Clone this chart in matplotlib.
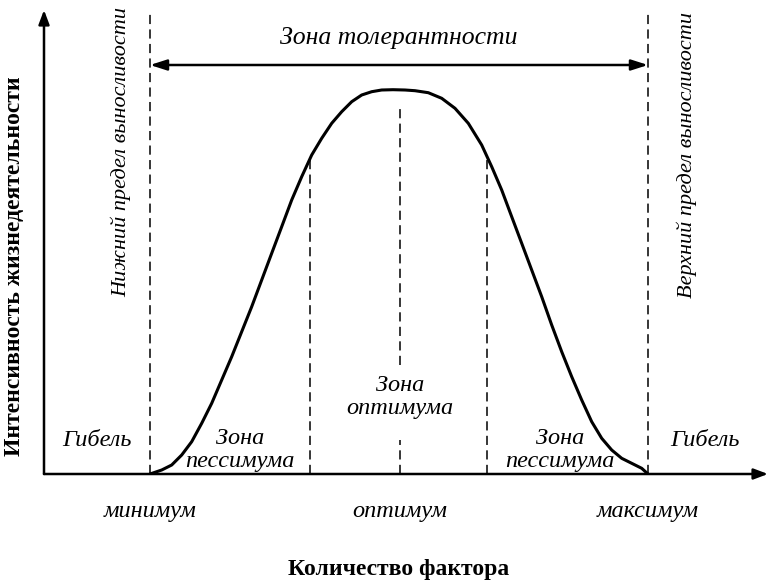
import numpy as np
import matplotlib
matplotlib.use('Agg')
import matplotlib.pyplot as plt

# tolerance curve (arbitrary units: factor along x, intensity along y)
factor = [106, 117.7, 127.7, 137.7, 147.7, 157.7, 167.7, 177.7, 187.7, 197.7, 207.7, 217.7,
          227.7, 237.7, 247.7, 257.7, 267.7, 277.7, 287.7, 297.7, 307.7, 317.7, 327.7, 337.7,
          349, 361, 371, 384.3, 397.7, 411, 424.3, 437.7, 447.7, 457.7, 467.7, 477.7, 487.7,
          497.7, 507.7, 517.7, 527.7, 537.7, 547.7, 557.7, 567.7, 577.7, 587.7, 597.7, 604]
intensity = [0, 4, 9, 19, 32.3, 50.7, 70.7, 94, 117.3, 142.3, 167.3, 194,
             220.7, 247.3, 274, 297.3, 319, 335.7, 350.7, 362.3, 372.3, 379, 382.3, 384,
             384.3, 384, 383.3, 381.3, 375.7, 365.7, 350.7, 329, 307.3, 284, 257.3, 230.7, 204,
             177.3, 149, 122.3, 97.3, 74, 52.3, 35.7, 24, 15.7, 10.7, 5.7, 0]

limits = [106, 604]            # lower / upper limit of endurance
pessimum_edges = [266, 443]    # borders between pessimum and optimum zones
optimum = 356
tick_names = ['минимум', 'оптимум', 'максимум']
tick_pos = [106, 356, 604]

XMAX, YMAX = 724, 474
TOP = 464

plt.rcParams['font.family'] = ['Liberation Serif', 'DejaVu Serif']

fig = plt.figure(figsize=(7.68, 5.85), dpi=100)
ax = fig.add_axes([44 / 768, 111 / 585, 724 / 768, 474 / 585])
ax.set_xlim(0, XMAX)
ax.set_ylim(0, YMAX)
ax.axis('off')

# axes with arrows
head = '-|>,head_length=0.85,head_width=0.32'
ax.annotate('', xy=(XMAX, 0), xytext=(0, 0), annotation_clip=False,
            arrowprops=dict(arrowstyle=head, lw=1.8, color='black', shrinkA=0, shrinkB=0))
ax.annotate('', xy=(0, TOP), xytext=(0, 0), annotation_clip=False,
            arrowprops=dict(arrowstyle=head, lw=1.8, color='black', shrinkA=0, shrinkB=0))

dash = dict(color='black', lw=1.1, dashes=(6, 3.5))
# limits of endurance
for x in limits:
    ax.plot([x, x], [0, TOP], **dash)
# pessimum / optimum borders, up to the curve
for x in pessimum_edges:
    ax.plot([x, x], [0, np.interp(x, factor, intensity)], **dash)
# optimum line, broken for the label
ax.plot([optimum, optimum], [109, 369], **dash)
ax.plot([optimum, optimum], [0, 34], **dash)

# tolerance curve
ax.plot(factor, intensity, color='black', lw=2.2, solid_capstyle='round', solid_joinstyle='round')

# tolerance zone arrow
ax.annotate('', xy=(limits[1], 409), xytext=(limits[0], 409),
            arrowprops=dict(arrowstyle='<|-|>,head_length=1.0,head_width=0.32', lw=1.8,
                            color='black', shrinkA=0, shrinkB=0))
ax.text(354.5, 436, 'Зона толерантности', style='italic', fontsize=18.5, ha='center', va='center')

# limit labels
ax.text(77, 322, 'Нижний предел выносливости', style='italic', fontsize=16,
        rotation=90, ha='center', va='center')
ax.text(643, 319, 'Верхний предел выносливости', style='italic', fontsize=16,
        rotation=90, ha='center', va='center')

# zone labels
ax.text(53, 34, 'Гибель', style='italic', fontsize=17.5, ha='center', va='center')
ax.text(661, 34, 'Гибель', style='italic', fontsize=17.5, ha='center', va='center')
ax.text(196, 24, 'Зона\nпессимума', style='italic', fontsize=17.5, ha='center', va='center',
        linespacing=1.08)
ax.text(516, 24, 'Зона\nпессимума', style='italic', fontsize=17.5, ha='center', va='center',
        linespacing=1.08)
ax.text(optimum, 77, 'Зона\nоптимума', style='italic', fontsize=17.5, ha='center', va='center',
        linespacing=1.1)

# factor ticks
for name, x in zip(tick_names, tick_pos):
    ax.text(x, -38, name, style='italic', fontsize=17.5, ha='center', va='center')

ax.text(355, -95, 'Количество фактора', fontweight='bold', fontsize=17, ha='center', va='center')
ax.text(-29, 208, 'Интенсивность жизнедеятельности', fontweight='bold', fontsize=17,
        rotation=90, ha='center', va='center')

fig.savefig('out.png', dpi=100, facecolor='white')
